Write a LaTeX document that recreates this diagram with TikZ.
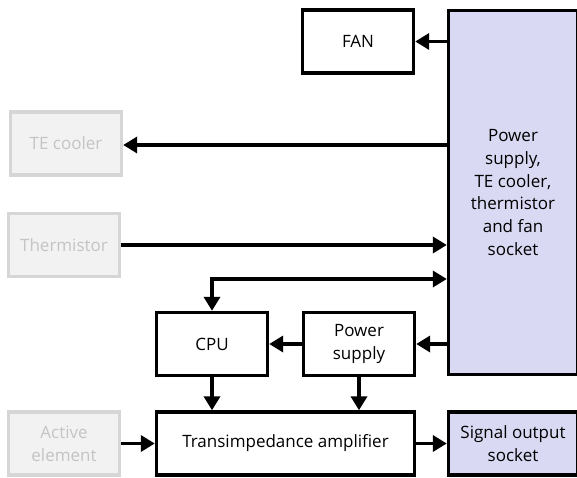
\documentclass[tikz,border=0pt]{standalone}
\usepackage{fontspec}
\setmainfont{Open Sans}
\usetikzlibrary{arrows.meta,positioning}
\definecolor{lavender}{RGB}{217,217,243}
\definecolor{ghostline}{RGB}{214,214,214}
\definecolor{ghostfill}{RGB}{242,242,242}
\definecolor{ghosttext}{RGB}{196,196,196}

\tikzset{
  box/.style={draw=black, line width=3.4pt, fill=white, minimum width=111pt,
    minimum height=63pt, align=center, inner sep=2pt,
    font=\fontsize{17}{22.7}\selectfont},
  ghost/.style={box, draw=ghostline, fill=ghostfill, text=ghosttext},
  socket/.style={box, fill=lavender, minimum width=129pt},
  tip/.style={Triangle[length=14pt,width=16pt]},
  wire/.style={line width=3.6pt, -{Triangle[length=14pt,width=16pt]}},
}

\begin{document}
\begin{tikzpicture}[x=1pt,y=-1pt]
  \useasboundingbox (0,0) rectangle (577,478);

  % blocks
  \node[socket, minimum height=364pt] (psock) at (513,192.5)
    {Power\\supply,\\TE cooler,\\thermistor\\and fan\\socket};
  \node[box] (fan) at (358,41.5) {FAN};
  \node[ghost] (tec) at (66,143.5) {TE cooler};
  \node[ghost] (therm) at (64,245) {Thermistor};
  \node[box] (cpu) at (212,344) {CPU};
  \node[box] (psu) at (359,344) {Power\\supply};
  \node[box, minimum width=258pt] (tia) at (285.5,443.5) {Transimpedance amplifier};
  \node[ghost] (active) at (64,443.5) {Active\\element};
  \node[socket] (sig) at (513,443.5) {Signal output\\socket};

  \coordinate (bus) at (psock.west |- 0,279);

  % connections
  \draw[wire] (psock.west |- fan.east) -- (fan.east);
  \draw[wire] (psock.west |- 0,145) -- (tec.east |- 0,145);
  \draw[wire] (therm.east) -- (psock.west |- therm.east);
  \draw[wire, {Triangle[length=14pt,width=16pt]}-{Triangle[length=14pt,width=16pt]}] (bus) -| (cpu.north);
  \draw[wire] (psock.west |- psu.east) -- (psu.east);
  \draw[wire] (psu.west) -- (cpu.east);
  \draw[wire] (cpu.south) -- (cpu.south |- tia.north);
  \draw[wire] (psu.south) -- (psu.south |- tia.north);
  \draw[wire] (active.east) -- (tia.west);
  \draw[wire] (tia.east) -- (sig.west);
\end{tikzpicture}
\end{document}
